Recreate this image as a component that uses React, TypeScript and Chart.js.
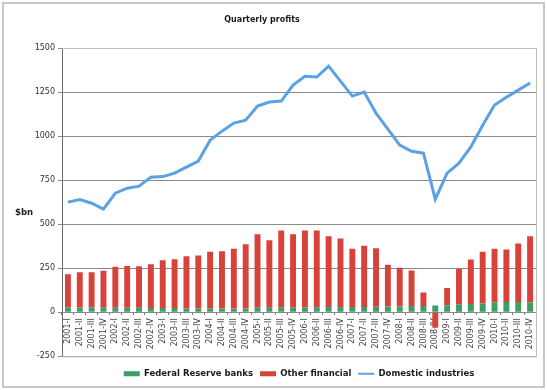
import React, { useEffect, useRef } from 'react';
import { Chart, registerables } from 'chart.js';

Chart.register(...registerables);

const TITLE = 'Quarterly profits';
const Y_LABEL = '$bn';

const categories = [
  '2001-I', '2001-II', '2001-III', '2001-IV',
  '2002-I', '2002-II', '2002-III', '2002-IV',
  '2003-I', '2003-II', '2003-III', '2003-IV',
  '2004-I', '2004-II', '2004-III', '2004-IV',
  '2005-I', '2005-II', '2005-III', '2005-IV',
  '2006-I', '2006-II', '2006-III', '2006-IV',
  '2007-I', '2007-II', '2007-III', '2007-IV',
  '2008-I', '2008-II', '2008-III', '2008-IV',
  '2009-I', '2009-II', '2009-III', '2009-IV',
  '2010-I', '2010-II', '2010-III', '2010-IV',
];

const fedReserve = [
  27, 27, 27, 27, 25, 25, 25, 24, 24, 24,
  22, 22, 22, 22, 22, 22, 25, 26, 26, 27,
  27, 28, 30, 30, 30, 30, 31, 32, 33, 35,
  36, 38, 40, 45, 47, 50, 55, 58, 58, 55,
];

const otherFinancial = [
  189, 200, 200, 208, 233, 238, 236, 249, 271, 277,
  296, 300, 321, 324, 338, 364, 418, 383, 438, 416,
  437, 436, 402, 389, 330, 347, 333, 237, 219, 202,
  76, -88, 98, 201, 252, 293, 305, 298, 332, 377,
];

const domestic = [
  625, 640, 619, 585, 676, 704, 716, 767, 770, 790,
  824, 858, 977, 1028, 1074, 1090, 1170, 1193, 1199, 1290,
  1340, 1335, 1397, 1312, 1227, 1250, 1130, 1040, 949, 914,
  903, 642, 790, 846, 938, 1062, 1176, 1221, 1261, 1301,
];

const yTicks = [-250, 0, 250, 500, 750, 1000, 1250, 1500];

const FONT = '"DejaVu Sans", Verdana, sans-serif';

const annotate = {
  id: 'annotate',
  beforeDatasetsDraw(chart: any) {
    const { ctx, chartArea } = chart;
    ctx.save();
    ctx.strokeStyle = '#bdbdbd';
    ctx.lineWidth = 1;
    ctx.beginPath();
    ctx.moveTo(chartArea.left, chartArea.top + 0.5);
    ctx.lineTo(chartArea.right + 0.5, chartArea.top + 0.5);
    ctx.lineTo(chartArea.right + 0.5, chartArea.bottom + 0.5);
    ctx.lineTo(chartArea.left, chartArea.bottom + 0.5);
    ctx.stroke();
    ctx.restore();
  },
  afterDraw(chart: any) {
    const { ctx } = chart;
    ctx.save();
    ctx.fillStyle = '#1a1a1a';
    ctx.font = `bold 8px ${FONT}`;
    ctx.textBaseline = 'middle';
    ctx.textAlign = 'center';
    ctx.fillText(TITLE, 262, 20);
    ctx.textAlign = 'left';
    ctx.font = `bold 8.5px ${FONT}`;
    ctx.fillText(Y_LABEL, 15, 213);
    ctx.restore();
  },
};

export default function App() {
  const ref = useRef<HTMLCanvasElement | null>(null);

  useEffect(() => {
    document.body.style.margin = '0';
    const canvas = ref.current;
    if (!canvas) return;
    const chart = new Chart(canvas, {
      data: {
        labels: categories,
        datasets: [
          {
            type: 'bar',
            label: 'Federal Reserve banks',
            data: fedReserve,
            backgroundColor: '#3e9d63',
            stack: 'fin',
            categoryPercentage: 0.5,
            barPercentage: 1,
            order: 2,
          },
          {
            type: 'bar',
            label: 'Other financial',
            data: otherFinancial,
            backgroundColor: '#d9423a',
            stack: 'fin',
            categoryPercentage: 0.5,
            barPercentage: 1,
            order: 2,
          },
          {
            type: 'line',
            label: 'Domestic industries',
            data: domestic,
            borderColor: '#5ba2e4',
            backgroundColor: '#5ba2e4',
            borderWidth: 3,
            pointRadius: 0,
            tension: 0,
            stack: 'dom',
            order: 1,
          },
        ] as any,
      },
      options: {
        responsive: false,
        animation: false,
        layout: { padding: { left: 0, right: 11, top: 48, bottom: 2 } },
        plugins: {
          title: { display: false },
          tooltip: { enabled: false },
          legend: {
            position: 'bottom',
            fullSize: false,
            title: { display: true, text: '', font: { size: 1 }, padding: { top: 0, bottom: 5 } },
            labels: {
              usePointStyle: true,
              pointStyleWidth: 16,
              boxHeight: 5,
              padding: 7,
              color: '#1a1a1a',
              font: { family: FONT, size: 8.5, weight: 'bold' },
              sort: (a: any, b: any) => a.datasetIndex - b.datasetIndex,
              generateLabels: (c: any) => {
                const items = (Chart.defaults.plugins.legend.labels as any).generateLabels(c);
                return items.map((it: any) => {
                  const ds = c.data.datasets[it.datasetIndex];
                  if (ds.type === 'line') {
                    return { ...it, pointStyle: 'line', lineWidth: 2, strokeStyle: ds.borderColor };
                  }
                  return { ...it, pointStyle: 'rect', lineWidth: 0 };
                });
              },
            },
          },
        },
        scales: {
          x: {
            stacked: true,
            position: { y: 0 } as any,
            grid: { display: true, drawOnChartArea: false, drawTicks: true, tickLength: 3, color: '#777' },
            border: { display: false },
            ticks: {
              autoSkip: false,
              minRotation: 90,
              maxRotation: 90,
              padding: 3,
              color: '#444',
              font: { family: FONT, size: 8 },
            },
          },
          y: {
            stacked: true,
            min: -250,
            max: 1500,
            afterBuildTicks: (s: any) => {
              s.ticks = yTicks.map((v) => ({ value: v }));
            },
            afterFit: (s: any) => {
              s.width = 62;
            },
            grid: { color: '#8a8a8a', tickLength: 4, lineWidth: 1 },
            border: { color: '#6e6e6e' },
            ticks: {
              padding: 3,
              color: '#333',
              font: { family: FONT, size: 8 },
              callback: (v: any) => String(v),
            },
          },
        },
      } as any,
      plugins: [annotate],
    });
    return () => chart.destroy();
  }, []);

  return (
    <div style={{ position: 'relative', width: 547, height: 390, background: '#fff' }}>
      <canvas ref={ref} width={547} height={390} style={{ position: 'absolute', left: 0, top: 0 }} />
      <div
        style={{
          position: 'absolute',
          left: 2,
          top: 2,
          width: 543,
          height: 386,
          boxSizing: 'border-box',
          border: '2px solid #c8c8c8',
          pointerEvents: 'none',
        }}
      />
    </div>
  );
}
